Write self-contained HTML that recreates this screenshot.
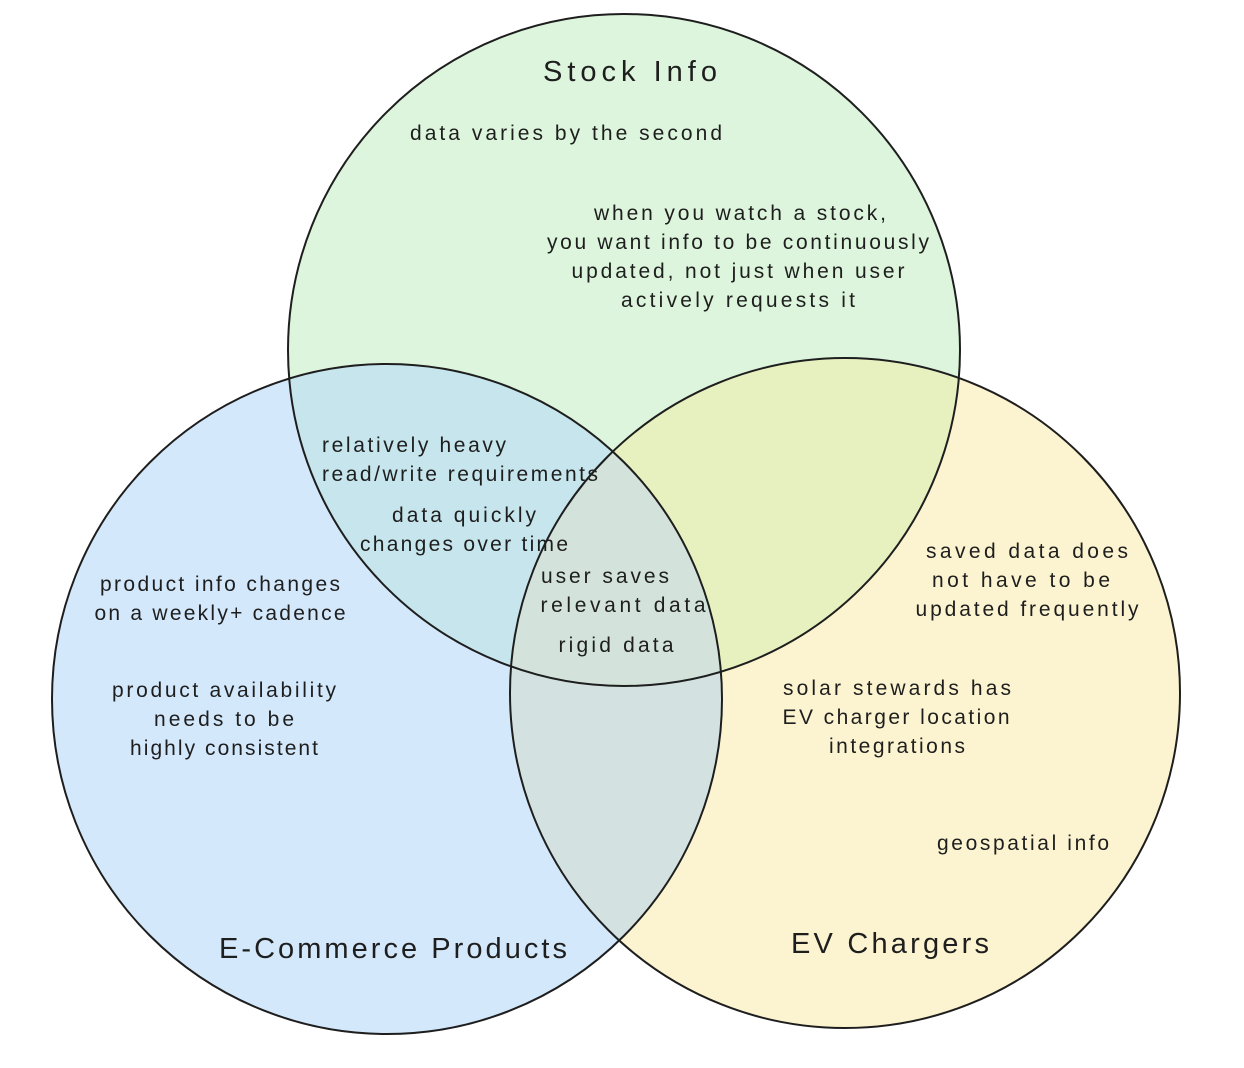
<!DOCTYPE html>
<html><head><meta charset="utf-8"><style>
html,body{margin:0;padding:0;background:#fff;}
svg{display:block;}
text{font-family:"Liberation Sans",sans-serif;fill:#1e1e1e;text-anchor:middle;}
.t{font-size:21px;}
.h{font-size:29px;}
</style></head><body>
<svg width="1244" height="1068" viewBox="0 0 1244 1068" xmlns="http://www.w3.org/2000/svg">
<defs>
<clipPath id="cg"><circle cx="624" cy="350" r="336"/></clipPath>
<clipPath id="cb"><circle cx="387" cy="699" r="335"/></clipPath>
<clipPath id="cy"><circle cx="845" cy="693" r="335"/></clipPath>
</defs>
<circle cx="387" cy="699" r="335" fill="#d4e8fb"/>
<circle cx="845" cy="693" r="335" fill="#fcf4d0"/>
<circle cx="624" cy="350" r="336" fill="#dcf5dc"/>
<g clip-path="url(#cg)">
<circle cx="387" cy="699" r="335" fill="#c6e5ec"/>
<circle cx="845" cy="693" r="335" fill="#e7f1c0"/>
</g>
<g clip-path="url(#cb)">
<circle cx="845" cy="693" r="335" fill="#d3e2e0"/>
</g>
<g clip-path="url(#cb)"><g clip-path="url(#cy)">
<circle cx="624" cy="350" r="336" fill="#d3e3dc"/>
</g></g>
<g fill="none" stroke="#1e1e1e" stroke-width="2">
<circle cx="624" cy="350" r="336"/>
<circle cx="387" cy="699" r="335"/>
<circle cx="845" cy="693" r="335"/>
</g>
<g lengthAdjust="spacing">
<text class="h" x="630" y="81" textLength="174">Stock Info</text>
<text class="h" x="393" y="958" textLength="348">E-Commerce Products</text>
<text class="h" x="890" y="953" textLength="198">EV Chargers</text>
<text class="t" x="566" y="140" textLength="312">data varies by the second</text>
<text class="t" x="740" y="220" textLength="292">when you watch a stock,</text>
<text class="t" x="738" y="249" textLength="382">you want info to be continuously</text>
<text class="t" x="738" y="278" textLength="333">updated, not just when user</text>
<text class="t" x="738" y="307" textLength="234">actively requests it</text>
<text class="t" x="414" y="452" textLength="184">relatively heavy</text>
<text class="t" x="460" y="481" textLength="276">read/write requirements</text>
<text class="t" x="464" y="522" textLength="144">data quickly</text>
<text class="t" x="464" y="551" textLength="208">changes over time</text>
<text class="t" x="605" y="583" textLength="128">user saves</text>
<text class="t" x="623" y="612" textLength="165">relevant data</text>
<text class="t" x="616" y="652" textLength="115">rigid data</text>
<text class="t" x="220" y="591" textLength="240">product info changes</text>
<text class="t" x="220" y="620" textLength="251">on a weekly+ cadence</text>
<text class="t" x="224" y="697" textLength="224">product availability</text>
<text class="t" x="224" y="726" textLength="140">needs to be</text>
<text class="t" x="224" y="755" textLength="188">highly consistent</text>
<text class="t" x="1027" y="558" textLength="202">saved data does</text>
<text class="t" x="1021" y="587" textLength="178">not have to be</text>
<text class="t" x="1027" y="616" textLength="223">updated frequently</text>
<text class="t" x="897" y="695" textLength="228">solar stewards has</text>
<text class="t" x="896" y="724" textLength="227">EV charger location</text>
<text class="t" x="897" y="753" textLength="136">integrations</text>
<text class="t" x="1023" y="850" textLength="172">geospatial info</text>
</g>
</svg>
</body></html>
